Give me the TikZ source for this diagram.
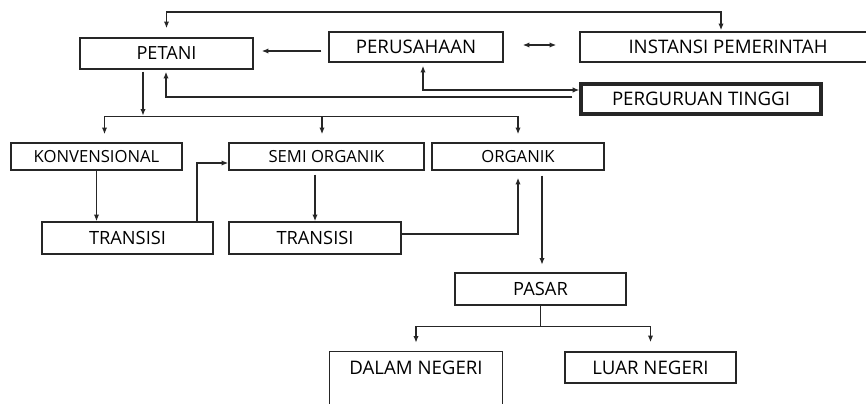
\documentclass[tikz,border=0pt]{standalone}
\usepackage{fontspec}
\setmainfont{Open Sans}
\usetikzlibrary{arrows.meta,calc}
\newdimen\pxunit
\pxunit=0.75pt

\begin{document}
\begin{tikzpicture}[
    x=0.75pt, y=-0.75pt,
    boxtext/.style={inner sep=0pt, font=\fontsize{14}{16}\selectfont},
    box/.style={boxtext, draw=black!85, line width=1.1pt},
    smalltext/.style={font=\fontsize{12.5}{14}\selectfont},
    arr/.style={draw=black!85, line width=1pt, -{Latex[length=5pt,width=4pt]}},
    twoarr/.style={arr, {Latex[length=5pt,width=4pt]}-{Latex[length=5pt,width=4pt]}},
    line/.style={draw=black!85, line width=1pt}
]
    \useasboundingbox (0,0) rectangle (866,403);

    \node[box, font=\fontsize{13.6}{16}\selectfont, minimum width=173\pxunit, minimum height=31\pxunit] (petani) at (166.5,53.5) {PETANI};
    \node[box, minimum width=174\pxunit, minimum height=30\pxunit] (perusahaan) at (416,47) {PERUSAHAAN};
    \node[box, minimum width=296\pxunit, minimum height=30\pxunit] (instansi) at (728,47) {INSTANSI PEMERINTAH};
    \node[box, line width=2.4pt, minimum width=240\pxunit, minimum height=30\pxunit] (perguruan) at (701,99) {PERGURUAN TINGGI};

    \node[box, smalltext, minimum width=171\pxunit, minimum height=27\pxunit] (konv) at (96.5,156.5) {KONVENSIONAL};
    \node[box, smalltext, minimum width=195\pxunit, minimum height=27\pxunit] (semi) at (326.5,156.5) {SEMI ORGANIK};
    \node[box, smalltext, minimum width=172\pxunit, minimum height=27\pxunit] (organik) at (518,156.5) {ORGANIK};
    \node[box, font=\fontsize{13.7}{16}\selectfont, minimum width=171\pxunit, minimum height=32\pxunit] (trans1) at (127.5,238) {TRANSISI};
    \node[box, font=\fontsize{13.7}{16}\selectfont, minimum width=172\pxunit, minimum height=32\pxunit] (trans2) at (315,238) {TRANSISI};

    \node[box, font=\fontsize{13.7}{16}\selectfont, minimum width=171\pxunit, minimum height=32\pxunit] (pasar) at (540.5,289) {PASAR};
    \node[boxtext, minimum width=172\pxunit, minimum height=31\pxunit] (dalam) at (416,367.5) {DALAM NEGERI};
    \draw[line, line width=1.1pt] (dalam.north west) rectangle ($(dalam.south east)+(0,60)$);
    \node[box, minimum width=171\pxunit, minimum height=31\pxunit] (luar) at (650.5,367.5) {LUAR NEGERI};

    % top row
    \coordinate (top) at (0,12);
    \coordinate (petanitop) at ($(petani.north)+(0,-9)$);
    \coordinate (instansitop) at ($(instansi.north)+(-7,-1)$);
    \draw[twoarr] (petanitop) -- (petanitop |- top) -| (instansitop);
    \draw[arr] ($(perusahaan.west)+(-7,4)$) -- ($(petani.east)+(8,-2.5)$);
    \draw[twoarr] ($(perusahaan.east)+(19,-2)$) -- ($(instansi.west)+(-23,-2)$);
    \draw[twoarr] ($(perusahaan.south)+(7,3)$) |- ($(perguruan.west)+(0,-9)$);
    \draw[arr] ($(perguruan.west)+(-7,-2)$) -| ($(petani.south)+(-0.5,2)$);

    % petani to the three kinds
    \coordinate (branch) at ($(semi.north)+(-4.5,-26)$);
    \coordinate (konvtop) at ($(konv.north)+(8,-8)$);
    \coordinate (organiktop) at ($(organik.north)+(0,-8)$);
    \draw[arr] ($(petani.south)+(-23.5,2)$) -- ++(0,44);
    \draw[arr] (branch) -| (konvtop);
    \draw[arr] (branch) -- ($(semi.north)+(-4.5,-8)$);
    \draw[arr] (branch) -| (organiktop);

    \draw[arr] (konv.south) -- (konv.south |- trans1.north);
    \draw[arr] ($(trans1.north)+(69.5,0)$) |- ($(semi.west)+(0,6.5)$);
    \draw[arr] ($(semi.south)+(-11.5,4)$) -- (trans2.north);
    \draw[arr] ($(trans2.east)+(0,-4)$) -| ($(organik.south)+(0,7)$);
    \draw[arr] ($(organik.south)+(24,5)$) -- ++(0,89);

    % market
    \coordinate (market) at ($(pasar.south)+(0,21)$);
    \draw[line] (pasar.south) -- (market);
    \draw[arr] (market) -| ($(dalam.north)+(0,-9)$);
    \draw[arr] (market) -| ($(luar.north)+(0,-9)$);
\end{tikzpicture}
\end{document}
